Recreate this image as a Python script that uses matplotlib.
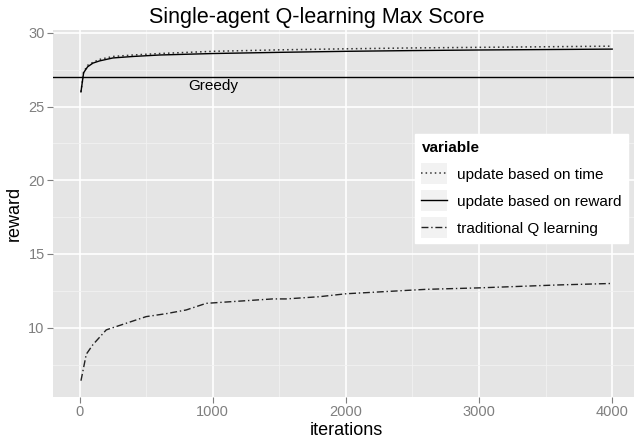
import matplotlib
matplotlib.use("Agg")
import matplotlib.pyplot as plt
from matplotlib.legend_handler import HandlerLine2D
from matplotlib.patches import Rectangle
from matplotlib.ticker import MultipleLocator

# values
iters_top = [10, 30, 60, 100, 150, 250, 400, 600, 1000, 1500, 2000, 2500, 3000, 3500, 4000]
reward_based = [26.0, 27.3, 27.7, 27.95, 28.1, 28.3, 28.4, 28.5, 28.6, 28.68, 28.75, 28.8, 28.84, 28.87, 28.9]
time_based = [26.0, 27.35, 27.8, 28.0, 28.2, 28.4, 28.5, 28.6, 28.75, 28.85, 28.92, 28.98, 29.02, 29.06, 29.1]

iters_trad = [10, 50, 100, 200, 300, 400, 500, 650, 800, 950, 1200, 1450, 1550, 1800,
              2000, 2300, 2600, 3000, 3300, 3600, 4000]
traditional = [6.4, 8.2, 8.85, 9.85, 10.15, 10.45, 10.75, 10.95, 11.2, 11.65, 11.8, 11.95,
               11.95, 12.1, 12.3, 12.45, 12.6, 12.7, 12.8, 12.9, 13.0]

greedy = 27


class KeyWithBox(HandlerLine2D):
    # ggplot-style legend key: line on a light grey square
    def create_artists(self, legend, orig_handle, xdescent, ydescent, width, height, fontsize, trans):
        box = Rectangle((-xdescent, -ydescent - 4), width, height + 8,
                        facecolor="#f2f2f2", edgecolor="none", transform=trans)
        arts = super().create_artists(legend, orig_handle, xdescent, ydescent, width, height, fontsize, trans)
        return [box] + arts


plt.rcParams["font.family"] = ["Liberation Sans", "DejaVu Sans"]

fig = plt.figure(figsize=(6.34, 4.47), dpi=100)
ax = fig.add_axes([0.0836, 0.112, 0.924, 0.821])
ax.set_facecolor("#e5e5e5")

ax.plot(iters_top, time_based, color="#333333", lw=1.1, linestyle=(0, (1, 2)), label="update based on time")
ax.plot(iters_top, reward_based, color="black", lw=1.0, label="update based on reward")
ax.plot(iters_trad, traditional, color="#222222", lw=1.0, linestyle=(0, (5, 2, 1, 2)), label="traditional Q learning")
ax.axhline(greedy, color="black", lw=1.0)
ax.text(1000, 26.4, "Greedy", fontsize=11, ha="center", va="center")

ax.set_xlim(-200, 4200)
ax.set_ylim(5.3, 30.2)
ax.xaxis.set_major_locator(MultipleLocator(1000))
ax.xaxis.set_minor_locator(MultipleLocator(500))
ax.yaxis.set_major_locator(MultipleLocator(5))
ax.yaxis.set_minor_locator(MultipleLocator(2.5))
ax.set_yticks([10, 15, 20, 25, 30])
ax.grid(which="major", color="white", lw=1.2)
ax.grid(which="minor", color="#f2f2f2", lw=0.6)
ax.set_axisbelow(True)
for s in ax.spines.values():
    s.set_visible(False)
ax.tick_params(which="major", colors="#7f7f7f", labelsize=10.5, length=4, width=0.8, pad=2)
ax.tick_params(which="minor", length=0)

ax.set_xlabel("iterations", fontsize=13, labelpad=2)
ax.set_ylabel("reward", fontsize=13)
ax.yaxis.set_label_coords(-0.052, 0.5)
fig.suptitle("Single-agent Q-learning Max Score", fontsize=15.5, x=0.5, y=0.985)

leg = ax.legend(loc="upper left", bbox_to_anchor=(0.612, 0.725), frameon=True, fancybox=False,
                facecolor="white", edgecolor="white", framealpha=1, fontsize=11,
                title="variable", title_fontproperties={"weight": "bold", "size": 11},
                handlelength=1.7, handletextpad=0.6, borderpad=0.45, borderaxespad=0.2,
                labelspacing=0.85, handler_map={plt.Line2D: KeyWithBox()})
leg._legend_box.align = "left"

fig.savefig("out.png", dpi=100)
